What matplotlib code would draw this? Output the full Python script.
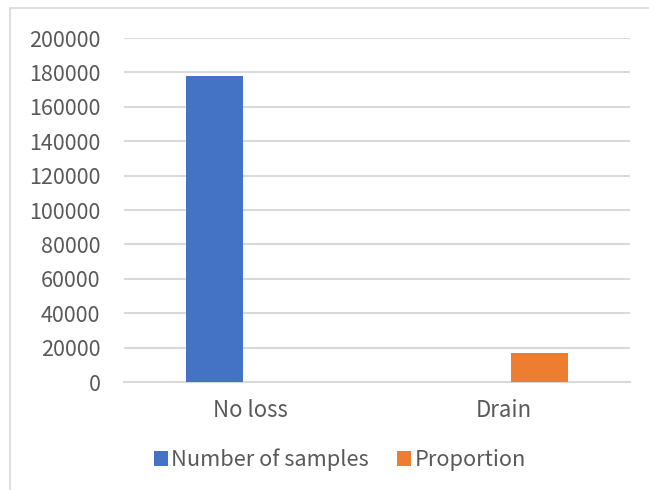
import matplotlib.pyplot as plt
import numpy as np
from matplotlib.patches import Rectangle

categories = ['No loss', 'Drain']
samples = [178000, 0]
proportion = [0, 16800]
yticks = [0, 20000, 40000, 60000, 80000, 100000, 120000, 140000, 160000, 180000, 200000]

plt.rcParams['font.family'] = ['Noto Sans CJK SC', 'DejaVu Sans']

fig = plt.figure(figsize=(6.49, 4.9), dpi=100)
ax = fig.add_axes([0.191, 0.2204, 0.7797, 0.702])

# chart frame
fig.patches.append(Rectangle((10 / 649, -0.1), 1.2, 1 - 8 / 490 + 0.1,
                             transform=fig.transFigure, fill=False,
                             edgecolor='#d9d9d9', linewidth=1.2))

x = np.arange(len(categories))
w = 0.225
off = 0.142
ax.bar(x - off, samples, w, color='#4472c4', label='Number of samples', zorder=3)
ax.bar(x + off, proportion, w, color='#ed7d31', label='Proportion', zorder=3)

ax.set_xlim(-0.5, 1.5)
ax.set_ylim(0, 200000)
ax.set_yticks(yticks)
ax.set_xticks(x)
ax.set_xticklabels(categories, fontsize=16)
ax.yaxis.grid(True, color='#d9d9d9', linewidth=1.5, zorder=0)
for s in ['top', 'right', 'left']:
    ax.spines[s].set_visible(False)
ax.spines['bottom'].set_color('#d9d9d9')
ax.spines['bottom'].set_linewidth(1.5)
ax.tick_params(axis='both', length=0, labelcolor='#595959')
ax.tick_params(axis='y', labelsize=15.5, pad=17)
ax.tick_params(axis='x', pad=12)

leg = fig.legend(loc='upper center', bbox_to_anchor=(340 / 649, 0.125), ncol=2,
                 frameon=False, fontsize=15.7, handlelength=0.65, handleheight=0.65,
                 handletextpad=0.15, columnspacing=1.3)
for t in leg.get_texts():
    t.set_color('#595959')

fig.savefig('out.png', dpi=100)
